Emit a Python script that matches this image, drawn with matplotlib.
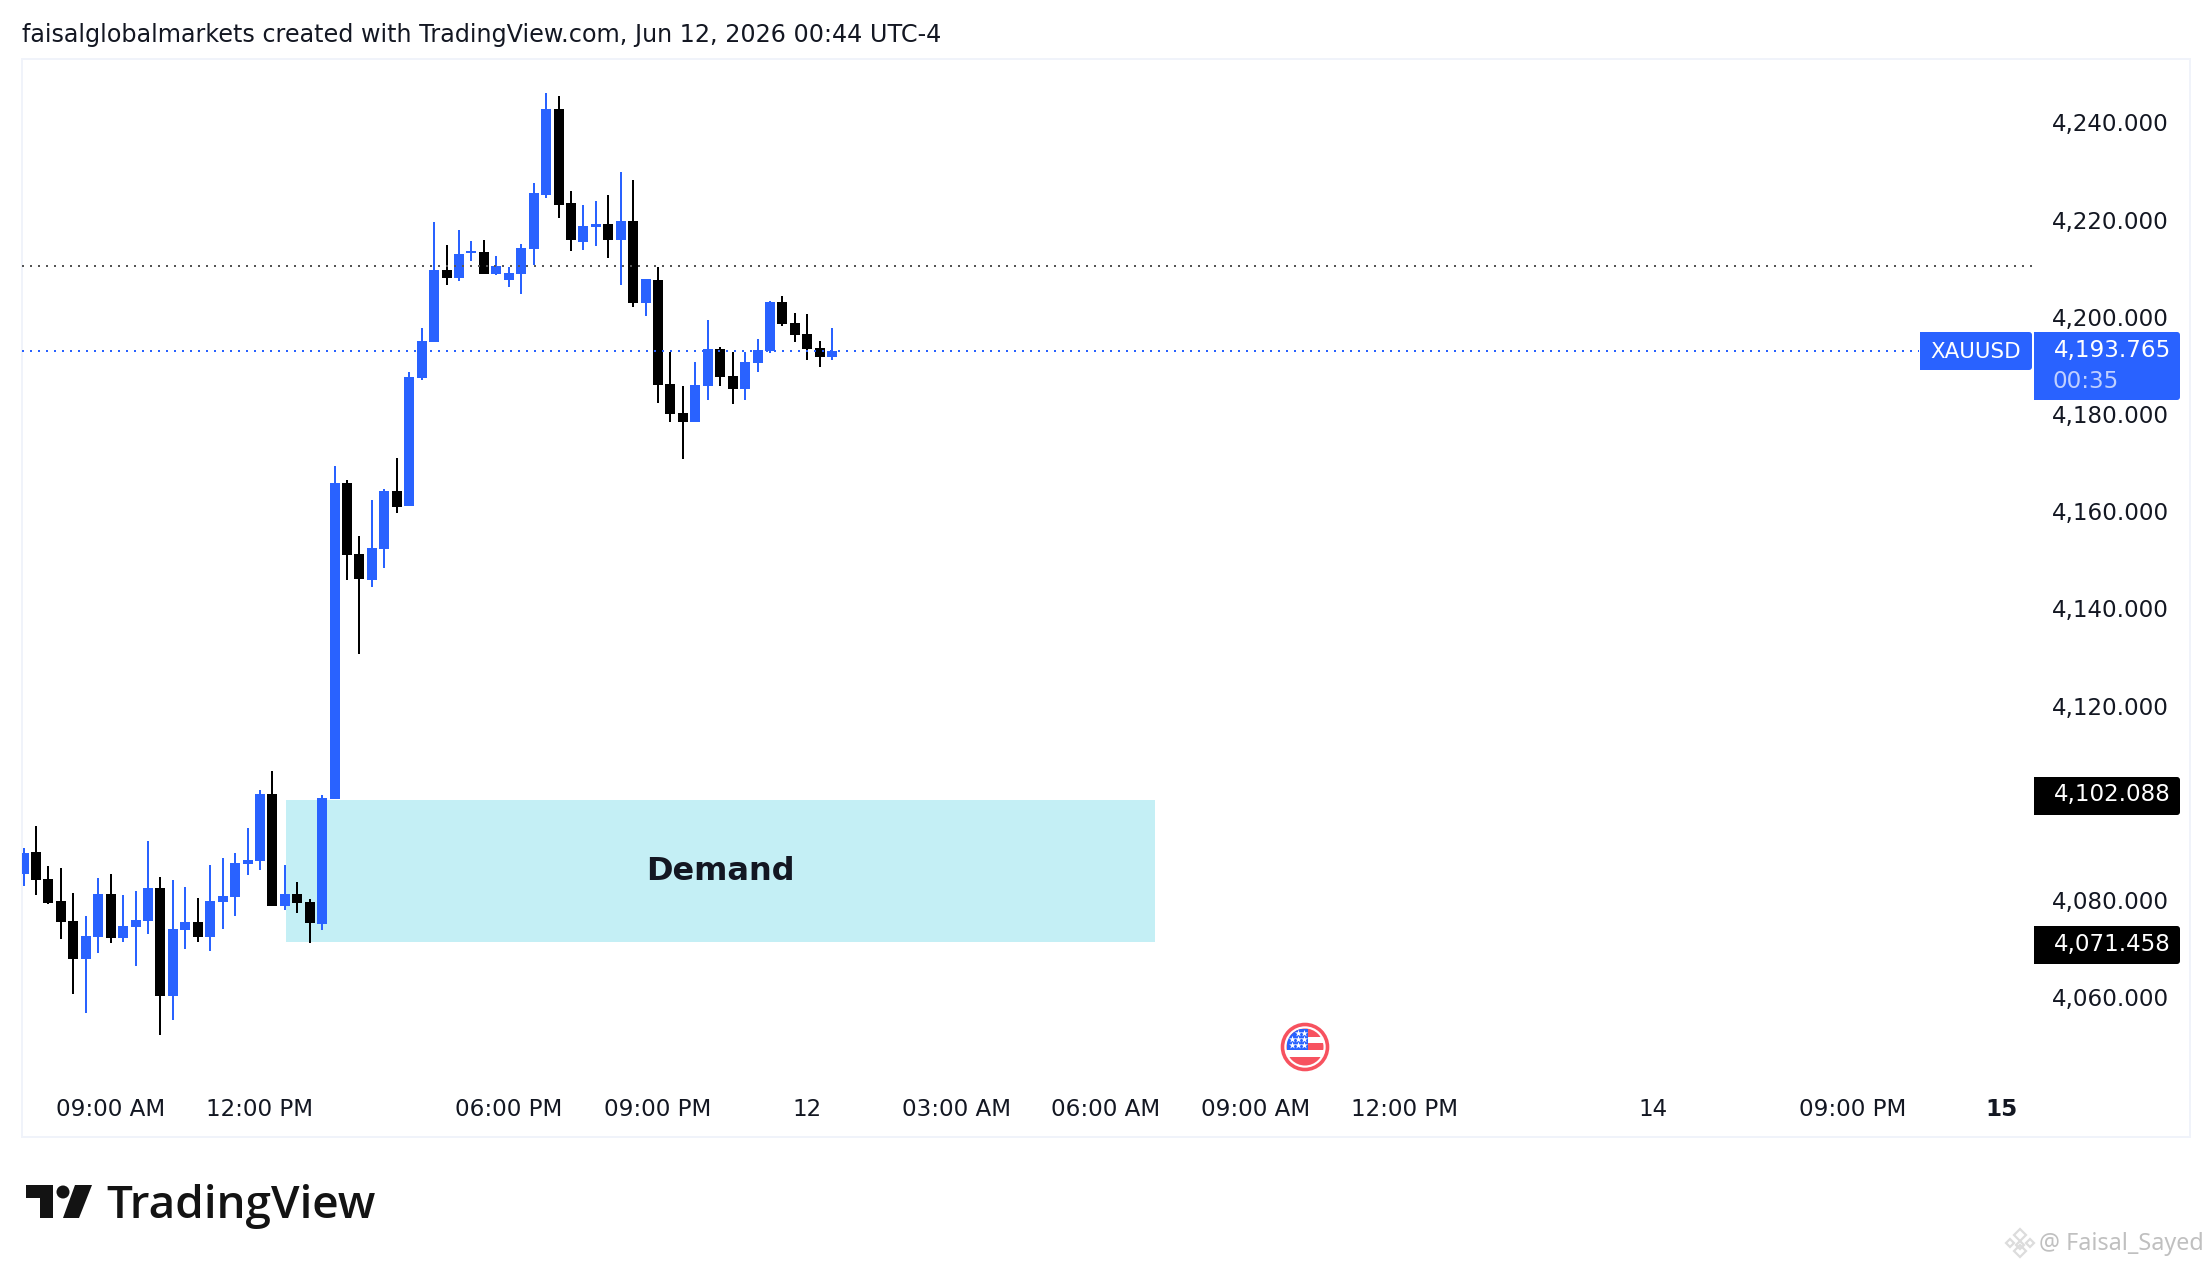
import matplotlib
matplotlib.use("Agg")
import matplotlib.pyplot as plt
from matplotlib.patches import Rectangle, Polygon, Circle, FancyBboxPatch
from matplotlib.transforms import ScaledTranslation
import numpy as np

# 15 minute candles, prices
opens = [4086.15, 4090.68, 4085.12, 4080.60, 4076.48, 4068.66, 4073.19, 4082.03, 4072.98, 4075.25, 4076.48,
         4083.26, 4061.05, 4074.62, 4076.27, 4073.19, 4080.38, 4081.42, 4088.21, 4088.82, 4102.61, 4079.56,
         4082.03, 4080.38, 4075.86, 4101.59, 4166.61, 4151.99, 4146.65, 4153.03, 4164.96, 4161.87, 4188.21,
         4195.62, 4210.43, 4208.78, 4213.93, 4214.13, 4209.61, 4208.37, 4209.61, 4214.75, 4225.86, 4243.56,
         4224.22, 4216.20, 4219.28, 4219.89, 4216.61, 4220.51, 4203.64, 4208.37, 4186.98, 4181.01, 4179.16,
         4186.56, 4194.18, 4188.62, 4185.94, 4191.30, 4193.77, 4203.85, 4199.53, 4197.26, 4194.38, 4192.54]
highs = [4091.50, 4096.03, 4087.80, 4087.39, 4082.24, 4077.50, 4085.33, 4086.15, 4081.83, 4082.65, 4092.94,
         4085.53, 4084.91, 4083.47, 4081.21, 4088.00, 4089.45, 4090.47, 4095.62, 4103.43, 4107.41, 4088.00,
         4084.50, 4081.01, 4102.40, 4170.11, 4167.23, 4155.70, 4163.10, 4165.37, 4171.75, 4189.45, 4198.50,
         4220.31, 4215.58, 4218.67, 4216.40, 4216.61, 4213.32, 4211.05, 4215.79, 4228.33, 4246.85, 4246.23,
         4226.69, 4223.80, 4224.63, 4225.86, 4230.60, 4228.95, 4208.58, 4211.05, 4193.56, 4186.56, 4191.50,
         4200.14, 4194.59, 4193.56, 4193.56, 4196.24, 4204.06, 4205.08, 4201.59, 4201.38, 4195.83, 4198.50]
lows = [4083.68, 4081.83, 4079.97, 4072.78, 4061.46, 4057.55, 4069.90, 4071.96, 4072.16, 4067.22, 4073.80,
        4053.02, 4056.11, 4070.72, 4072.16, 4070.31, 4074.84, 4077.50, 4085.94, 4086.98, 4079.56, 4078.74,
        4078.13, 4071.96, 4074.62, 4101.59, 4146.65, 4131.42, 4145.21, 4149.11, 4160.43, 4161.87, 4187.80,
        4195.62, 4207.35, 4208.17, 4212.29, 4209.61, 4209.41, 4206.94, 4205.49, 4211.46, 4225.25, 4221.14,
        4214.34, 4214.54, 4215.38, 4212.91, 4207.35, 4202.82, 4200.97, 4183.06, 4179.16, 4171.54, 4179.16,
        4183.69, 4186.56, 4182.86, 4183.69, 4189.45, 4193.36, 4198.91, 4195.62, 4191.91, 4190.48, 4191.91]
closes = [4090.47, 4084.91, 4080.18, 4076.27, 4068.66, 4073.39, 4082.03, 4072.98, 4075.45, 4076.68, 4083.26,
          4061.05, 4074.84, 4076.27, 4073.19, 4080.60, 4081.62, 4088.41, 4089.03, 4102.61, 4079.56, 4082.03,
          4080.18, 4076.07, 4101.79, 4166.61, 4151.79, 4146.86, 4153.23, 4164.96, 4161.67, 4188.41, 4195.83,
          4210.43, 4208.78, 4213.72, 4214.34, 4209.61, 4211.26, 4209.82, 4214.95, 4226.27, 4243.56, 4223.80,
          4216.61, 4219.48, 4219.89, 4216.61, 4220.51, 4203.64, 4208.58, 4186.77, 4180.80, 4179.16, 4186.77,
          4194.18, 4188.41, 4185.94, 4191.50, 4193.97, 4203.85, 4199.32, 4197.06, 4194.18, 4192.54, 4193.77]

price_ticks = [4060, 4080, 4100, 4120, 4140, 4160, 4180, 4200, 4220, 4240]
time_positions = [7, 19, 39, 51, 63, 75, 87, 99, 111, 131, 147, 159]
time_labels = ["09:00 AM", "12:00 PM", "06:00 PM", "09:00 PM", "12", "03:00 AM", "06:00 AM",
               "09:00 AM", "12:00 PM", "14", "09:00 PM", "15"]

last_price = 4193.765
prev_level = 4211.25
zone_top = 4101.38
zone_bottom = 4072.16
zone_start = 21.09
zone_end = 90.95

BLUE = "#2962ff"
W, H = 2212, 1269
px = 72 / 100  # one pixel in points

plt.rcParams["font.family"] = "DejaVu Sans"
plt.rcParams["ytick.alignment"] = "center"
fig = plt.figure(figsize=(W / 100, H / 100), dpi=100, facecolor="white")
ax = fig.add_axes([22 / W, 1 - 1137 / H, (2190 - 22) / W, (1137 - 59) / H])
ax.set_xlim(-0.129, 174.15)
ax.set_ylim(4032.03, 4253.85)
for s in ax.spines.values():
    s.set_color("#f0f3fa")
    s.set_linewidth(2 * px)

# zone under the candles
ax.add_patch(Rectangle((zone_start, zone_bottom), zone_end - zone_start, zone_top - zone_bottom,
                       facecolor="#c4eff5", edgecolor="none", zorder=1))
ax.text((zone_start + zone_end) / 2, 4086.67, "Demand", ha="center", va="center",
        fontsize=23, fontweight="bold", color="#131722", zorder=5)

# dotted level lines
dots = (0, (1, 3))
ax.plot([-0.129, 161.6], [prev_level, prev_level], color="#555555", lw=2 * px, ls=dots,
        dash_capstyle="butt", zorder=4)
ax.plot([-0.129, 152.4], [last_price, last_price], color=BLUE, lw=2 * px, ls=dots,
        dash_capstyle="butt", zorder=4)

o = np.array(opens)
c = np.array(closes)
h = np.array(highs)
l = np.array(lows)
x = np.arange(len(o))
cols = [BLUE if cc >= oo else "black" for oo, cc in zip(o, c)]
ax.vlines(x, l, h, colors=cols, linewidth=2 * px, zorder=3)
ax.bar(x, np.abs(c - o), width=0.804, bottom=np.minimum(o, c), color=cols, linewidth=0, zorder=3)

ax.yaxis.tick_right()
ax.set_yticks(price_ticks)
ax.set_yticklabels([f"{p:,.3f}" for p in price_ticks], fontsize=16.6, color="#131722")
ax.tick_params(axis="y", length=0, pad=-99.4)
nudge = ScaledTranslation(0, 1.4 / 100, fig.dpi_scale_trans)
for t in ax.get_yticklabels():
    t.set_transform(t.get_transform() + nudge)
ax.set_xticks(time_positions)
ax.set_xticklabels(time_labels, fontsize=16.6, color="#131722")
ax.tick_params(axis="x", length=0, pad=-28)
ax.get_xticklabels()[-1].set_fontweight("bold")

# overlay in pixel coordinates for labels and branding
ov = fig.add_axes([0, 0, 1, 1], facecolor="none")
ov.set_xlim(0, W)
ov.set_ylim(H, 0)
ov.axis("off")

def label_box(x0, y0, x1, y1, color):
    ov.add_patch(FancyBboxPatch((x0 + 3, y0 + 3), x1 - x0 - 6, y1 - y0 - 6, boxstyle="round,pad=3,rounding_size=3",
                                facecolor=color, edgecolor="none"))
    # left side of the price tags is square
    ov.add_patch(Rectangle((x0, y0), 6, y1 - y0, facecolor=color, edgecolor="none"))

label_box(1920, 332, 2032, 370, BLUE)
label_box(2034, 332, 2180, 400, BLUE)
ov.text(1976, 352, "XAUUSD", color="white", fontsize=15.4, ha="center", va="center")
ov.text(2054, 350, f"{last_price:,.3f}", color="white", fontsize=16.6, ha="left", va="center")
ov.text(2053, 381, "00:35", color="#c0d0ff", fontsize=16.6, ha="left", va="center")

label_box(2034, 777, 2180, 815, "black")
ov.text(2054, 795, "4,102.088", color="white", fontsize=16.6, ha="left", va="center")
label_box(2034, 926, 2180, 964, "black")
ov.text(2054, 945, "4,071.458", color="white", fontsize=16.6, ha="left", va="center")

ov.text(22, 35, "faisalglobalmarkets created with TradingView.com, Jun 12, 2026 00:44 UTC-4",
        fontsize=17.18, color="#131722", ha="left", va="center")

# TradingView logo
logo = "#131313"
ov.add_patch(Polygon([(26, 1185), (53, 1185), (53, 1218), (40, 1218), (40, 1198), (26, 1198)], facecolor=logo, edgecolor="none"))
ov.add_patch(Circle((63, 1192), 6.5, facecolor=logo, edgecolor="none"))
ov.add_patch(Polygon([(75, 1185), (92, 1185), (79, 1218), (63, 1218)], facecolor=logo, edgecolor="none"))
ov.text(106, 1218, "TradingView", fontfamily="Open Sans", fontweight="semibold", fontsize=33, color=logo, ha="left", va="baseline")

# US flag event marker
cx, cy = 1305, 1047
clip = Circle((cx, cy), 18.5, transform=ov.transData)
for y0, y1, col in [(1028, 1037, "#f7525f"), (1037, 1043, "white"), (1043, 1050, "#f7525f"),
                    (1050, 1057, "white"), (1057, 1066, "#f7525f")]:
    r = Rectangle((cx - 20, y0), 40, y1 - y0, facecolor=col, edgecolor="none")
    ov.add_patch(r)
    r.set_clip_path(clip)
canton = Rectangle((1287, 1029), 21, 21, facecolor=BLUE, edgecolor="none")
ov.add_patch(canton)
canton.set_clip_path(clip)
ov.scatter([1298, 1304, 1292, 1298, 1304, 1292, 1298, 1304], [1033, 1033, 1039, 1039, 1039, 1045, 1045, 1045],
           marker="*", s=28, color="white", linewidths=0, zorder=6)
ov.add_patch(Circle((cx, cy), 22.5, facecolor="none", edgecolor="#f7525f", linewidth=3.6 * px))

# watermark
wm = "#dcdcdc"
for dx, dy, r in [(2020, 1235, 6), (2010, 1243, 4), (2030, 1243, 4), (2020, 1245, 4), (2020, 1251, 6)]:
    ov.add_patch(Polygon([(dx, dy - r), (dx + r, dy), (dx, dy + r), (dx - r, dy)], facecolor="none", edgecolor=wm, linewidth=1.6))
ov.text(2039, 1244, "@ Faisal_Sayed", fontfamily="Noto Sans", fontsize=16.8, color="#c0c0c0", ha="left", va="center")

fig.savefig("out.png", dpi=100)
